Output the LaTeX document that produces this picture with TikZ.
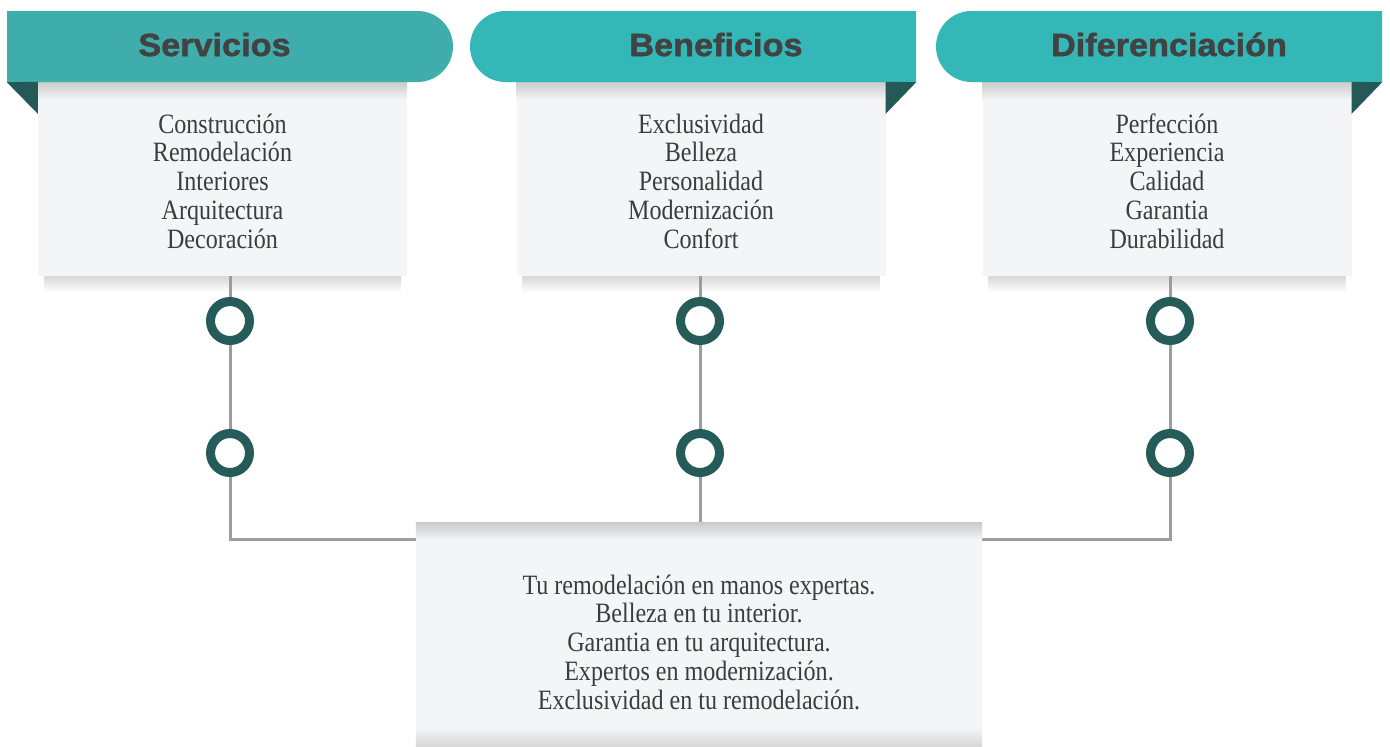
\documentclass[tikz,border=0pt]{standalone}
\usepackage{fontspec}
\setmainfont{Liberation Serif}
\newfontfamily\bodyfont[FakeStretch=0.86]{Liberation Serif}
\newfontfamily\headfont[FakeStretch=1.07,FakeBold=1.6]{Liberation Sans}
\usetikzlibrary{shapes.misc,backgrounds}

\definecolor{tabA}{HTML}{3FADAB}
\definecolor{tabB}{HTML}{33B7B7}
\definecolor{foldc}{HTML}{245958}
\definecolor{ringc}{HTML}{255B59}
\definecolor{linkc}{HTML}{9D9D9D}
\definecolor{panelbg}{HTML}{F4F5F7}
\definecolor{bodytext}{HTML}{3C3C3C}
\definecolor{headtext}{HTML}{424242}
\definecolor{shadowc}{HTML}{CBCBCB}

\tikzset{
  tab/.style={rounded rectangle, minimum width=446pt, minimum height=71pt, inner sep=0pt},
  head/.style={anchor=base, inner sep=0pt, text=headtext, font=\headfont\bfseries\fontsize{32}{32}\selectfont},
  panel/.style={fill=panelbg, minimum width=369pt, minimum height=194pt, inner sep=0pt},
  list/.style={align=center, inner sep=0pt, text=bodytext, font=\bodyfont\fontsize{28}{28.75}\selectfont},
  ring/.style={circle, draw=ringc, line width=9pt, fill=white, minimum size=39pt, inner sep=0pt},
  link/.style={draw=linkc, line width=3pt},
  fold/.style={fill=foldc},
}

\begin{document}
\begin{tikzpicture}[x=1pt,y=-1pt]
  \useasboundingbox (0,0) rectangle (1390,747);

  % panels under the tabs
  \node[panel] (pan1) at (222.5,179) {};
  \node[panel] (pan2) at (701,179) {};
  \node[panel] (pan3) at (1167,179) {};
  \node[panel, minimum width=566pt, minimum height=224pt] (box) at (699,635) {};

  \node[list] (l1) at (222.5,181) {Construcción\\Remodelación\\Interiores\\Arquitectura\\Decoración};
  \node[list] (l2) at (701,181) {Exclusividad\\Belleza\\Personalidad\\Modernización\\Confort};
  \node[list] (l3) at (1167,181) {Perfección\\Experiencia\\Calidad\\Garantia\\Durabilidad};
  \node[list] (msg) at (699,642)
    {Tu remodelación en manos expertas.\\Belleza en tu interior.\\Garantia en tu arquitectura.\\Expertos en modernización.\\Exclusividad en tu remodelación.};

  % shadows inside the panels
  \foreach \p in {pan1,pan2,pan3}
    \shade[top color=shadowc, bottom color=panelbg] (\p.north west) rectangle ([yshift=-18pt]\p.north east);
  \shade[top color=shadowc, bottom color=panelbg] (box.north west) rectangle ([yshift=-17pt]box.north east);
  \shade[top color=panelbg, bottom color=shadowc!80] ([yshift=20pt]box.south west) rectangle (box.south east);

  % tabs
  \node[tab, fill=tabA, rounded rectangle left arc=none] (tab1) at (230,46.5) {};
  \node[tab, fill=tabB, rounded rectangle right arc=none] (tab2) at (693,46.5) {};
  \node[tab, fill=tabB, rounded rectangle right arc=none] (tab3) at (1159,46.5) {};
  \fill[fold] (tab1.south west) -- (pan1.north west) -- ([yshift=-32pt]pan1.north west) -- cycle;
  \fill[fold] (tab2.south east) -- (pan2.north east) -- ([yshift=-32pt]pan2.north east) -- cycle;
  \fill[fold] (tab3.south east) -- (pan3.north east) -- ([yshift=-32pt]pan3.north east) -- cycle;

  \node[head] (h1) at (214.5,56) {Servicios};
  \node[head] (h2) at (716,56) {Beneficios};
  \node[head] (h3) at (1169,56) {Diferenciación};

  % rings
  \node[ring] (r11) at (230,321) {};
  \node[ring] (r12) at (230,453) {};
  \node[ring] (r21) at (700,321) {};
  \node[ring] (r22) at (700,453) {};
  \node[ring] (r31) at (1170,321) {};
  \node[ring] (r32) at (1170,453) {};
  \coordinate (j1) at (230,539);
  \coordinate (j3) at (1170,539);

  \begin{scope}[on background layer]
    \foreach \p in {pan1,pan2,pan3}
      \shade[top color=shadowc!75, bottom color=white] ([xshift=6pt]\p.south west) rectangle ([xshift=-6pt,yshift=-16pt]\p.south east);
    \draw[link] (r11 |- pan1.south) -- (r11) -- (r12) -- (j1) -- (j1 -| box.west);
    \draw[link] (r21 |- pan2.south) -- (r21) -- (r22) -- (r22 |- box.north);
    \draw[link] (r31 |- pan3.south) -- (r31) -- (r32) -- (j3) -- (j3 -| box.east);
  \end{scope}
\end{tikzpicture}
\end{document}
